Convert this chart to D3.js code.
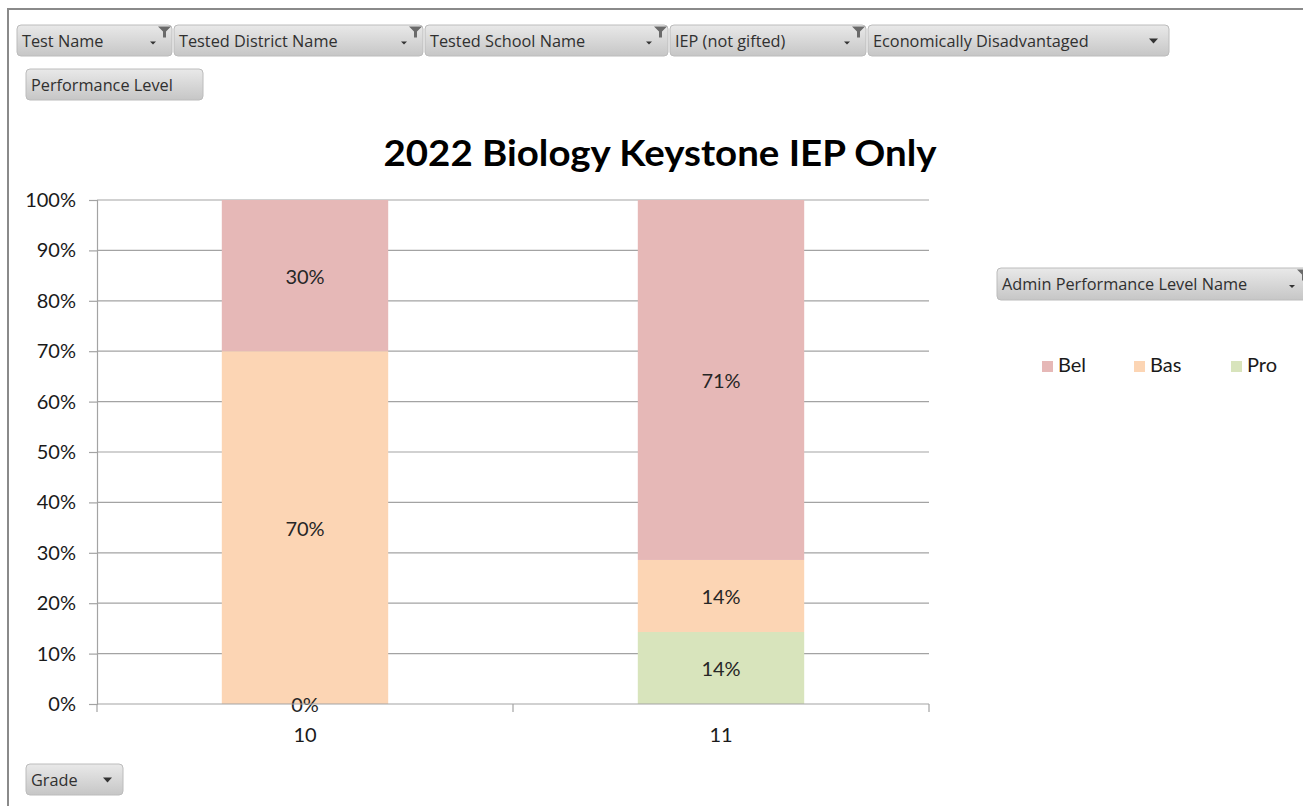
<!DOCTYPE html>
<html><head><meta charset="utf-8">
<script src="https://cdn.jsdelivr.net/npm/d3@7"></script>
<style>
html,body{margin:0;padding:0;background:#fff;}
svg{display:block;}
</style></head>
<body>
<svg id="chart" width="1303" height="806"></svg>
<script>
// ---- data ----
const grades = ["10", "11"];
const levels = ["Pro", "Bas", "Bel"];          // stacking order bottom -> top
const legendOrder = ["Bel", "Bas", "Pro"];
const proValues = [0.0, 0.1429];
const basValues = [0.70, 0.1429];
const belValues = [0.30, 0.7142];
const yTicks = [0, 0.1, 0.2, 0.3, 0.4, 0.5, 0.6, 0.7, 0.8, 0.9, 1.0];
const titleText = "2022 Biology Keystone IEP Only";
const filterButtons = ["Test Name", "Tested District Name", "Tested School Name", "IEP (not gifted)", "Economically Disadvantaged"];
const filterHasFunnel = [true, true, true, true, false];
const colors = {Bel: "#e6b8b7", Bas: "#fcd5b4", Pro: "#d8e4bc"};

(function () {
const rows = grades.map((g, i) => ({grade: g, Pro: proValues[i], Bas: basValues[i], Bel: belValues[i]}));

const svg = d3.select("#chart");
const font = "Lato, 'Open Sans', sans-serif";
const uiFont = "'Open Sans', 'Noto Sans', sans-serif";

const defs = svg.append("defs");
const grad = defs.append("linearGradient").attr("id", "btn").attr("x1", 0).attr("y1", 0).attr("x2", 0).attr("y2", 1);
grad.append("stop").attr("offset", "0%").attr("stop-color", "#e9e9e9");
grad.append("stop").attr("offset", "100%").attr("stop-color", "#c6c6c6");

// frame
svg.append("path").attr("d", "M8,806 V9 H1303").attr("fill", "none").attr("stroke", "#8a8a8a").attr("stroke-width", 2);

function button(x, y, w, h, label, icon) {
  const g = svg.append("g").attr("transform", `translate(${x},${y})`);
  g.append("rect").attr("width", w).attr("height", h).attr("rx", 4).attr("ry", 4)
    .attr("fill", "url(#btn)").attr("stroke", "#bcbcbc").attr("stroke-width", 1);
  g.append("text").attr("x", 5).attr("y", h / 2 + 6).attr("font-family", uiFont).attr("font-size", 16.3)
    .attr("fill", "#303030").text(label);
  if (icon === "funnel") {
    g.append("path").attr("d", `M${w-22},${h/2+1} h6 l-3,3 z`).attr("fill", "#333");
    g.append("path").attr("d", `M${w-14},1.5 h13 l-5,5 v6 h-3 v-6 z`).attr("fill", "#6a6a6a");
  } else if (icon === "arrow") {
    g.append("path").attr("d", `M${w-20},${h/2-2} h9 l-4.5,5 z`).attr("fill", "#333");
  }
  return g;
}

const btnX = [17, 174, 425, 670, 868];
const btnW = [155, 249, 243, 196, 301];
filterButtons.forEach((lab, i) => {
  button(btnX[i], 25, btnW[i], 31, lab, filterHasFunnel[i] ? "funnel" : "arrow");
});
button(26, 69, 177, 31, "Performance Level", null);
button(997, 268, 314, 32, "Admin Performance Level Name", "funnel");
button(26, 764, 97, 31, "Grade", "arrow");

svg.append("text").attr("x", 660).attr("y", 166).attr("text-anchor", "middle")
  .attr("font-family", font).attr("font-weight", "bold").attr("font-size", 37)
  .attr("textLength", 553).attr("lengthAdjust", "spacingAndGlyphs")
  .attr("fill", "#000").text(titleText);

const pLeft = 97, pRight = 929, pTop = 200, pBottom = 704;
const x = d3.scaleBand().domain(grades).range([pLeft, pRight]).paddingInner(0.6).paddingOuter(0.3);
const y = d3.scaleLinear().domain([0, 1]).range([pBottom, pTop]);

svg.append("g").selectAll("line").data(yTicks.filter(t => t > 0)).join("line")
  .attr("x1", pLeft).attr("x2", pRight).attr("y1", d => y(d)).attr("y2", d => y(d))
  .attr("stroke", "#a3a3a3").attr("stroke-width", 1.2);

const stack = d3.stack().keys(levels)(rows);
const barG = svg.append("g");
stack.forEach(layer => {
  barG.selectAll(null).data(layer).join("rect")
    .attr("x", d => x(d.data.grade))
    .attr("width", x.bandwidth())
    .attr("y", d => y(d[1]))
    .attr("height", d => y(d[0]) - y(d[1]))
    .attr("fill", colors[layer.key]);
});

const yAxis = d3.axisLeft(y).tickValues(yTicks).tickFormat(d3.format(".0%")).tickSize(8).tickPadding(13);
const yg = svg.append("g").attr("transform", `translate(${pLeft},0)`).call(yAxis);
yg.select(".domain").attr("stroke", "#a3a3a3").attr("stroke-width", 1.2);
yg.selectAll(".tick line").attr("stroke", "#a3a3a3").attr("stroke-width", 1.2);
yg.selectAll(".tick text").attr("font-family", font).attr("font-size", 20).attr("fill", "#1a1a1a");

const xg = svg.append("g").attr("transform", `translate(0,${pBottom})`);
xg.append("line").attr("x1", pLeft).attr("x2", pRight).attr("y1", 0).attr("y2", 0).attr("stroke", "#a3a3a3").attr("stroke-width", 1.2);
const xBounds = [pLeft].concat(grades.map(g => x(g) + x.bandwidth() / 2 + x.step() / 2));
xg.selectAll("line.b").data(xBounds).join("line").attr("class", "b")
  .attr("x1", d => d).attr("x2", d => d).attr("y1", 0).attr("y2", 8).attr("stroke", "#a3a3a3").attr("stroke-width", 1.2);
xg.selectAll("text").data(grades).join("text")
  .attr("x", d => x(d) + x.bandwidth() / 2).attr("y", 38).attr("text-anchor", "middle")
  .attr("font-family", font).attr("font-size", 20).attr("fill", "#1a1a1a").text(d => d);

const fmt = d3.format(".0%");
stack.forEach(layer => {
  barG.selectAll(null).data(layer).join("text")
    .attr("x", d => x(d.data.grade) + x.bandwidth() / 2)
    .attr("y", d => (y(d[0]) + y(d[1])) / 2 + 1)
    .attr("dy", "0.35em")
    .attr("text-anchor", "middle")
    .attr("font-family", font).attr("font-size", 20).attr("fill", "#262626")
    .text(d => fmt(d[1] - d[0]));
});

const legX = [1042, 1134, 1231];
const lg = svg.append("g");
legendOrder.forEach((k, i) => {
  lg.append("rect").attr("x", legX[i]).attr("y", 361).attr("width", 11).attr("height", 11).attr("fill", colors[k]);
  lg.append("text").attr("x", legX[i] + 16).attr("y", 372).attr("font-family", font).attr("font-size", 20)
    .attr("fill", "#1a1a1a").text(k);
});
})();
</script>
</body></html>
